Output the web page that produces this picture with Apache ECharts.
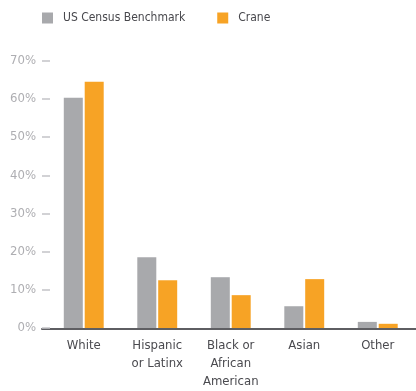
<!DOCTYPE html>
<html><head><meta charset="utf-8">
<script src="https://cdn.jsdelivr.net/npm/echarts@6/dist/echarts.min.js"></script>
<style>html,body{margin:0;padding:0;background:#fff}#c{width:416px;height:391px}</style>
</head><body><div id="c"></div>
<script>
const categories = ['White', 'Hispanic\nor Latinx', 'Black or\nAfrican\nAmerican', 'Asian', 'Other'];
const censusValues = [60.3, 18.5, 13.3, 5.7, 1.6];
const craneValues = [64.5, 12.5, 8.6, 12.8, 1.1];
const seriesNames = ['US Census Benchmark', 'Crane'];
const yTicks = [0, 10, 20, 30, 40, 50, 60, 70];

const FONT = '"DejaVu Sans Condensed", "Liberation Sans Narrow", sans-serif';
const chart = echarts.init(document.getElementById('c'));
chart.setOption({
  animation: false,
  textStyle: { fontFamily: FONT },
  legend: {
    left: 42, top: 12, padding: 0, itemWidth: 11, itemHeight: 11, itemGap: 32,
    icon: 'rect',
    textStyle: { fontFamily: FONT, fontSize: 12, color: '#48484d', padding: [0, 0, 0, 5] },
    data: seriesNames
  },
  grid: [
    { left: 47, right: 1.5, top: 60.7, bottom: 62 },
    { left: 42, right: 0, top: 60.7, bottom: 62 }
  ],
  xAxis: [
    {
      type: 'category', gridIndex: 0, data: categories,
      axisLine: { show: false }, axisTick: { show: false },
      axisLabel: { fontFamily: FONT, fontSize: 13, lineHeight: 18, color: '#4a4a4f', margin: 9, interval: 0 }
    },
    {
      type: 'category', gridIndex: 1, data: categories,
      axisLine: { show: true, lineStyle: { color: '#5e5e62', width: 2 } },
      axisTick: { show: false }, axisLabel: { show: false }
    }
  ],
  yAxis: [
    {
      type: 'value', gridIndex: 0, min: yTicks[0], max: yTicks[yTicks.length - 1], interval: 10,
      offset: -3,
      axisLine: { show: false },
      axisTick: { show: true, length: 8, lineStyle: { color: '#c4c4c7', width: 1.5 } },
      splitLine: { show: false },
      axisLabel: { formatter: '{value}%', fontFamily: FONT, fontSize: 13, color: '#aeaeb2', margin: 14 }
    },
    { type: 'value', gridIndex: 1, show: false, min: 0, max: 70 }
  ],
  series: [
    { name: seriesNames[0], type: 'bar', xAxisIndex: 0, yAxisIndex: 0, data: censusValues,
      barWidth: 19, barGap: '10%', itemStyle: { color: '#a8a9ac' } },
    { name: seriesNames[1], type: 'bar', xAxisIndex: 0, yAxisIndex: 0, data: craneValues,
      barWidth: 19, barGap: '10%', itemStyle: { color: '#f7a325' } }
  ]
});
</script></body></html>
